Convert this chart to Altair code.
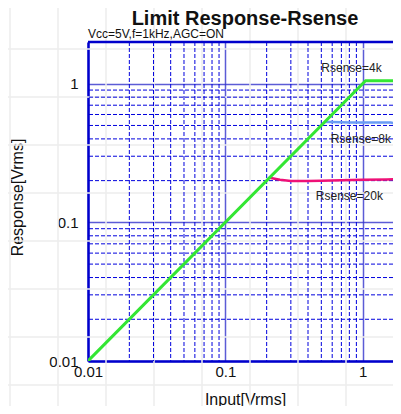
import altair as alt
import pandas as pd

# ---- data ----
series = ["Rsense=4k", "Rsense=8k", "Rsense=20k"]
colors = ["#33e633", "#6a9cf5", "#ee1177"]

green_x = [0.01, 1.05, 2.0]
green_y = [0.01, 1.05, 1.05]
blue_x = [0.53, 0.6, 0.8, 1.0, 1.3, 1.6, 1.75, 1.85, 2.0]
blue_y = [0.53, 0.53, 0.525, 0.525, 0.525, 0.525, 0.515, 0.495, 0.485]
pink_x = [0.21, 0.25, 0.3, 0.4, 0.5, 0.7, 1.0, 1.5, 2.0]
pink_y = [0.21, 0.203, 0.199, 0.199, 0.2, 0.201, 0.203, 0.204, 0.205]

label_x = [0.83, 0.97, 0.80]
label_y = [1.30, 0.40, 0.155]

major_ticks = [0.01, 0.1, 1]
minor_ticks = [0.02, 0.03, 0.04, 0.05, 0.06, 0.07, 0.08, 0.09,
               0.2, 0.3, 0.4, 0.5, 0.6, 0.7, 0.8, 0.9]

title_text = "Limit Response-Rsense"
subtitle_text = "Vcc=5V,f=1kHz,AGC=ON"

# ---- tables ----
rows = []
for name, xs, ys in [(series[0], green_x, green_y),
                     (series[1], blue_x, blue_y),
                     (series[2], pink_x, pink_y)]:
    for i, (a, b) in enumerate(zip(xs, ys)):
        rows.append({"s": name, "x": a, "y": b, "i": i})
lines_df = pd.DataFrame(rows)
labels_df = pd.DataFrame({"s": series, "x": label_x, "y": label_y})
minor_df = pd.DataFrame({"v": minor_ticks})

FONT = "Liberation Sans"
BLUE = "#0000cc"
W, H = 305, 319

xscale = alt.Scale(type="log", domain=[0.01, 2], range=[0, 316])
yscale = alt.Scale(type="log", domain=[0.01, 2])

x_axis = alt.Axis(values=major_ticks, format="~g", title="Input[Vrms]",
                  ticks=False, domain=True, domainColor=BLUE, domainWidth=2.5,
                  grid=True, labelFlush=False,
                  gridColor="#3333cc", gridWidth=1.5, gridOpacity=0.8,
                  labelFontSize=15, labelFont=FONT, labelColor="#111",
                  labelPadding=3, titleFontSize=16, titleFont=FONT,
                  titleFontWeight="normal", titleColor="#111", titlePadding=12,
                  titleX=157)
y_axis = alt.Axis(values=major_ticks, format="~g", title="Response[Vrms]",
                  ticks=False, domain=True, domainColor=BLUE, domainWidth=2.5,
                  grid=True,
                  gridColor="#3333cc", gridWidth=1.5, gridOpacity=0.8,
                  labelFontSize=15, labelFont=FONT, labelColor="#111",
                  labelPadding=10, titleFontSize=16, titleFont=FONT,
                  titleFontWeight="normal", titleColor="#111", titlePadding=23,
                  titleY=155)


def X(field="x"):
    return alt.X(f"{field}:Q", scale=xscale, axis=x_axis)


def Y(field="y"):
    return alt.Y(f"{field}:Q", scale=yscale, axis=y_axis)


one = pd.DataFrame({"a": [0]})
layers = []

# faint paper grid behind everything
for px in range(-78, W, 48):
    layers.append(alt.Chart(one).mark_rule(color="#ececec", strokeWidth=1.5).encode(
        x=alt.value(px), y=alt.value(-50), y2=alt.value(380)))
for py in range(-41, 380, 48):
    layers.append(alt.Chart(one).mark_rule(color="#ececec", strokeWidth=1.5).encode(
        y=alt.value(py), x=alt.value(-90), x2=alt.value(W)))

# minor dashed grid
layers.append(alt.Chart(minor_df).mark_rule(color="#0000dd", strokeWidth=1,
                                            strokeDash=[4, 2]).encode(x=X("v")))
layers.append(alt.Chart(minor_df).mark_rule(color="#0000dd", strokeWidth=1,
                                            strokeDash=[4, 2]).encode(y=Y("v")))

# top border of the plot frame
layers.append(alt.Chart(one).mark_rule(color=BLUE, strokeWidth=2.5).encode(
    y=alt.value(0), x=alt.value(0), x2=alt.value(W)))

# curves (pink, blue, then green on top)
for name, col, w in [(series[2], colors[2], 2.5), (series[1], colors[1], 2.5),
                     (series[0], colors[0], 3)]:
    layers.append(alt.Chart(lines_df).transform_filter(alt.datum.s == name)
                  .mark_line(color=col, strokeWidth=w, clip=True)
                  .encode(x=X(), y=Y(), order="i:Q"))

# series labels
layers.append(alt.Chart(labels_df).mark_text(fontSize=12, font=FONT, color="#222",
                                             align="center", baseline="middle")
              .encode(x=X(), y=Y(), text="s:N"))

# subtitle and title
layers.append(alt.Chart(one).mark_text(text=subtitle_text, fontSize=12,
                                       font=FONT, color="#111", align="left",
                                       baseline="alphabetic")
              .encode(x=alt.value(0), y=alt.value(-4)))
layers.append(alt.Chart(one).mark_text(text=title_text, fontSize=20, fontWeight="bold",
                                       font=FONT, color="#111", align="center",
                                       baseline="alphabetic")
              .encode(x=alt.value(157), y=alt.value(-17)))

chart = alt.layer(*layers).properties(
    width=W, height=H,
    autosize="none",
    padding={"left": 80, "top": 34, "right": 0, "bottom": 45},
).configure_view(stroke="transparent", strokeWidth=0).configure(background="white")

chart.save("out.html", embed_options={"renderer": "svg", "actions": False})
